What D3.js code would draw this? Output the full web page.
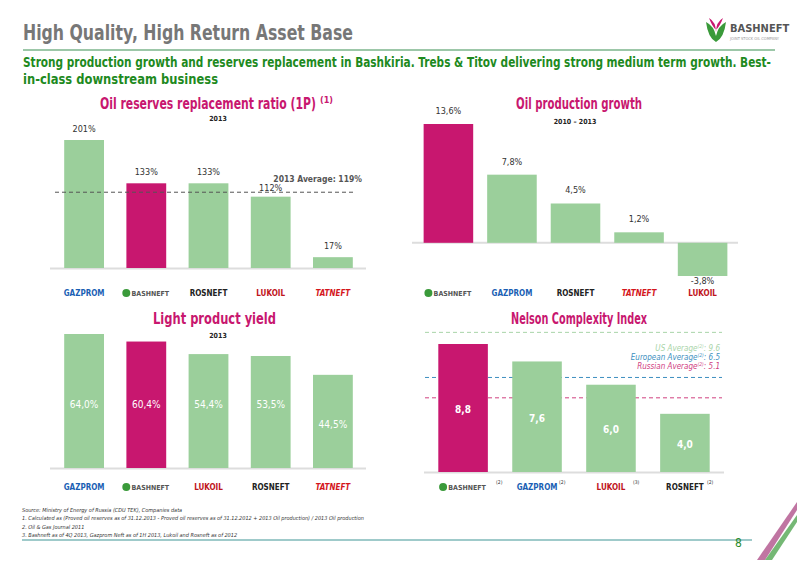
<!DOCTYPE html>
<html><head><meta charset="utf-8">
<script src="https://cdn.jsdelivr.net/npm/d3@7"></script>
<style>body{margin:0;background:#fff}svg{font-family:"DejaVu Sans Condensed","Liberation Sans Narrow",sans-serif}</style>
</head><body><svg id="c" width="800" height="566"></svg>
<script>
const rrrCompanies=["GAZPROM","BASHNEFT","ROSNEFT","LUKOIL","TATNEFT"];
const rrrValues=[201,133,133,112,17];
const rrrAverage=119;
const prodCompanies=["BASHNEFT","GAZPROM","ROSNEFT","TATNEFT","LUKOIL"];
const prodValues=[13.6,7.8,4.5,1.2,-3.8];
const yieldCompanies=["GAZPROM","BASHNEFT","LUKOIL","ROSNEFT","TATNEFT"];
const yieldValues=[64.0,60.4,54.4,53.5,44.5];
const nelsonCompanies=["BASHNEFT","GAZPROM","LUKOIL","ROSNEFT"];
const nelsonValues=[8.8,7.6,6.0,4.0];
const nelsonAverages=[{name:"US Average",v:9.6,c:"#a8d4a8"},{name:"European Average",v:6.5,c:"#3d8fc0"},{name:"Russian Average",v:5.1,c:"#d0407f"}];

const MAG="#c8176f",GRN="#9bcf9b";
const svg=d3.select("#c");
const fmt=v=>v.toFixed(1).replace(".",",");
function fit(sel,len){return sel.attr("textLength",len).attr("lengthAdjust","spacingAndGlyphs");}
fit(svg.append("text").attr("x",23).attr("y",40).attr("fill","#777").attr("font-size",22).attr("font-weight","bold").text("High Quality, High Return Asset Base"),330);
svg.append("line").attr("x1",23).attr("x2",775).attr("y1",50).attr("y2",50).attr("stroke","#9cc7a8").attr("stroke-width",2);
fit(svg.append("text").attr("x",23).attr("y",67).attr("fill","#1e8a1e").attr("font-size",14).attr("font-weight","bold").text("Strong production growth and reserves replacement in Bashkiria. Trebs & Titov delivering strong medium term growth. Best-"),748);
fit(svg.append("text").attr("x",23).attr("y",84).attr("fill","#1e8a1e").attr("font-size",14).attr("font-weight","bold").text("in-class downstream business"),195);
// logo
const lg=svg.append("g").attr("transform","translate(706,22)");
lg.append("path").attr("d","M0,0 Q8,4 10,14 Q12,4 20,0 Q18,16 10,20 Q2,16 0,0Z").attr("fill","#3a9a3a");
lg.append("path").attr("d","M3,-4 Q10,0 10,10 Q10,0 17,-4 Q14,4 10,8 Q6,4 3,-4Z").attr("fill",MAG);
lg.append("text").attr("x",24).attr("y",10).attr("font-size",11).attr("font-weight","bold").attr("fill","#555").text("BASHNEFT");
lg.append("text").attr("x",24).attr("y",18).attr("font-size",4).attr("fill","#999").text("JOINT STOCK OIL COMPANY");

const logoStyle={GAZPROM:"#1a5fb4",BASHNEFT:"#555",ROSNEFT:"#222",LUKOIL:"#c0141c",TATNEFT:"#d4161c"};
function logo(name,cx,y){
  const g=svg.append("g");
  if(name==="BASHNEFT"){g.append("circle").attr("cx",cx-20).attr("cy",y-3).attr("r",4).attr("fill","#3a9a3a");}
  g.append("text").attr("x",name==="BASHNEFT"?cx+4:cx).attr("y",y).attr("text-anchor","middle").attr("font-size",name==="BASHNEFT"?7:8).attr("font-weight","bold").attr("fill",logoStyle[name]).attr("font-style",name==="TATNEFT"?"italic":"normal").text(name);
}
function title(t,x,y,len,sup){
  const tx=svg.append("text").attr("x",x).attr("y",y).attr("fill",MAG).attr("font-size",15).attr("font-weight","bold").text(t);
  fit(tx,len);
  if(sup) svg.append("text").attr("x",x+len+4).attr("y",y-6).attr("fill",MAG).attr("font-size",9).attr("font-weight","bold").text(sup);
}
function sub(t,x,y){svg.append("text").attr("x",x).attr("y",y).attr("text-anchor","middle").attr("font-size",7).attr("font-weight","bold").attr("fill","#222").text(t);}

// Chart 1
title("Oil reserves replacement ratio (1P)",100,109,216,"(1)");sub("2013",218,121);
{const x=d3.scaleBand().domain(rrrCompanies).range([53,364]).paddingInner(0.36).paddingOuter(0.18);
 const y=d3.scaleLinear().domain([0,201]).range([268,140]);
 svg.append("line").attr("x1",50).attr("x2",366).attr("y1",268.5).attr("y2",268.5).attr("stroke","#ddd").attr("stroke-width",2);
 svg.selectAll(".b1").data(rrrValues).join("rect").attr("x",(d,i)=>x(rrrCompanies[i])).attr("width",x.bandwidth()).attr("y",d=>y(d)).attr("height",d=>y(0)-y(d)).attr("fill",(d,i)=>rrrCompanies[i]==="BASHNEFT"?MAG:GRN);
 svg.selectAll(".l1").data(rrrValues).join("text").attr("x",(d,i)=>x(rrrCompanies[i])+x.bandwidth()/2).attr("y",(d,i)=>i===3?y(d)-6:y(d)-8).attr("text-anchor","middle").attr("font-size",9).attr("fill","#333").text(d=>d+"%");
 svg.append("line").attr("x1",55).attr("x2",355).attr("y1",y(rrrAverage)).attr("y2",y(rrrAverage)).attr("stroke","#555").attr("stroke-dasharray","4,3");
 svg.append("text").attr("x",362).attr("y",y(rrrAverage)-10).attr("text-anchor","end").attr("font-size",8.5).attr("font-weight","bold").attr("fill","#555").text("2013 Average: "+rrrAverage+"%");
 rrrCompanies.forEach(c=>logo(c,x(c)+x.bandwidth()/2,296));}

// Chart 2
title("Oil production growth",516,109,126);sub("2010 – 2013",575,124);
{const x=d3.scaleBand().domain(prodCompanies).range([416,735]).paddingInner(0.22).paddingOuter(0.12);
 const y=d3.scaleLinear().domain([-3.8,13.6]).range([276,124]);
 svg.append("line").attr("x1",412).attr("x2",738).attr("y1",y(0)).attr("y2",y(0)).attr("stroke","#ddd").attr("stroke-width",2);
 svg.selectAll(".b2").data(prodValues).join("rect").attr("x",(d,i)=>x(prodCompanies[i])).attr("width",x.bandwidth()).attr("y",d=>y(Math.max(0,d))).attr("height",d=>Math.abs(y(0)-y(d))).attr("fill",(d,i)=>prodCompanies[i]==="BASHNEFT"?MAG:GRN);
 svg.selectAll(".l2").data(prodValues).join("text").attr("x",(d,i)=>x(prodCompanies[i])+x.bandwidth()/2).attr("y",d=>d>=0?y(d)-10:y(d)+8).attr("text-anchor","middle").attr("font-size",9).attr("fill","#333").text(d=>fmt(d)+"%");
 prodCompanies.forEach(c=>logo(c,x(c)+x.bandwidth()/2,296));}

// Chart 3
title("Light product yield",153,324,123);sub("2013",218,338);
{const x=d3.scaleBand().domain(yieldCompanies).range([53,364]).paddingInner(0.36).paddingOuter(0.18);
 const y=d3.scaleLinear().domain([0,64]).range([468,334]);
 svg.append("line").attr("x1",50).attr("x2",366).attr("y1",468.5).attr("y2",468.5).attr("stroke","#ddd").attr("stroke-width",2);
 svg.selectAll(".b3").data(yieldValues).join("rect").attr("x",(d,i)=>x(yieldCompanies[i])).attr("width",x.bandwidth()).attr("y",d=>y(d)).attr("height",d=>y(0)-y(d)).attr("fill",(d,i)=>yieldCompanies[i]==="BASHNEFT"?MAG:GRN);
 svg.selectAll(".l3").data(yieldValues).join("text").attr("x",(d,i)=>x(yieldCompanies[i])+x.bandwidth()/2).attr("y",(d,i)=>i===4?428:408).attr("text-anchor","middle").attr("font-size",10).attr("fill","#fff").text(d=>fmt(d)+"%");
 yieldCompanies.forEach(c=>logo(c,x(c)+x.bandwidth()/2,490));}

// Chart 4
title("Nelson Complexity Index",511,324,136);
{const x=d3.scaleBand().domain(nelsonCompanies).range([425,723]).paddingInner(0.33).paddingOuter(0.18);
 const y=d3.scaleLinear().domain([0,8.8]).range([472,344]);
 svg.append("line").attr("x1",424).attr("x2",724).attr("y1",472.5).attr("y2",472.5).attr("stroke","#ddd").attr("stroke-width",2);
 nelsonAverages.forEach((a,i)=>{
   svg.append("line").attr("x1",425).attr("x2",722).attr("y1",y(a.v)).attr("y2",y(a.v)).attr("stroke",a.c).attr("stroke-dasharray","4,3");
   const t=svg.append("text").attr("x",720).attr("y",351+i*9).attr("text-anchor","end").attr("font-size",8).attr("font-style","italic").attr("fill",a.c).text(a.name);
   t.append("tspan").attr("font-size",5).attr("dy",-3).text("(2)");t.append("tspan").attr("dy",3).text(": "+a.v);
 });
 svg.selectAll(".b4").data(nelsonValues).join("rect").attr("x",(d,i)=>x(nelsonCompanies[i])).attr("width",x.bandwidth()).attr("y",d=>y(d)).attr("height",d=>y(0)-y(d)).attr("fill",(d,i)=>nelsonCompanies[i]==="BASHNEFT"?MAG:GRN);
 svg.selectAll(".l4").data(nelsonValues).join("text").attr("x",(d,i)=>x(nelsonCompanies[i])+x.bandwidth()/2).attr("y",d=>(y(d)+472)/2+5).attr("text-anchor","middle").attr("font-size",10).attr("font-weight","bold").attr("fill","#fff").text(fmt);
 nelsonCompanies.forEach((c,i)=>{logo(c,x(c)+x.bandwidth()/2,490);svg.append("text").attr("x",x(c)+x.bandwidth()/2+(c==="BASHNEFT"?33:22)).attr("y",484).attr("font-size",5).attr("fill","#333").text(i===2?"(3)":"(2)");});}

// footnotes
const notes=["Source: Ministry of Energy of Russia (CDU TEK), Companies data","1.      Calculated as (Proved oil reserves as of 31.12.2013 - Proved oil reserves as of 31.12.2012 + 2013 Oil production) / 2013 Oil production","2.      Oil & Gas Journal 2011","3.      Bashneft as of 4Q 2013, Gazprom Neft as of 1H 2013, Lukoil and Rosneft as of 2012"];
notes.forEach((n,i)=>svg.append("text").attr("x",22).attr("y",512+i*8.3).attr("font-size",5.5).attr("font-style","italic").attr("fill","#333").text(n));
svg.append("line").attr("x1",22).attr("x2",752).attr("y1",540).attr("y2",540).attr("stroke","#7fb8b8").attr("stroke-width",1.5);
svg.append("text").attr("x",735).attr("y",547).attr("font-size",12).attr("fill","#2a8a2a").text("8");
svg.append("path").attr("d","M757,560 L797,502 L797,510 L765,560Z").attr("fill","#a53a7a").attr("opacity",0.7);
svg.append("path").attr("d","M765,560 L797,515 L797,522 L772,560Z").attr("fill","#3a9a3a").attr("opacity",0.7);
</script></body></html>
